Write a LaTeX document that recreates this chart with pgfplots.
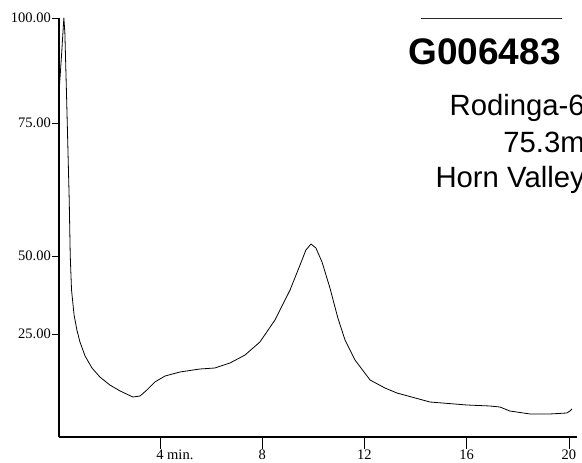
\documentclass[border=0pt]{standalone}
\usepackage{fontspec}
\setmainfont{Liberation Serif}
\newfontfamily\arial{Liberation Sans}
\usepackage{pgfplots}
\pgfplotsset{compat=1.18}
\begin{document}
\begin{tikzpicture}[x=1pt,y=1pt]
\begin{axis}[
  at={(59pt,26pt)}, anchor=south west,
  scale only axis,
  width=517.6pt, height=419pt,
  xmin=0.05, xmax=20.3, ymin=0, ymax=419,
  axis x line*=bottom, axis y line*=left,
  axis line style={-, line width=1.1pt},
  xtick=\empty,
  extra x ticks={4,8,12,16,20},
  extra x tick labels={{4\rlap{ min.}},8,12,16,20},
  extra x tick style={major tick length=12pt, tick style={line width=0.8pt, black},
     ticklabel style={font=\fontsize{14.5}{14.5}\selectfont, inner sep=1pt}},
  ytick={103,181,314,419},
  yticklabels={25.00,50.00,75.00,100.00},
  tick align=outside,
  major tick length=7pt,
  ytick style={line width=0.8pt, black},
  yticklabel style={font=\fontsize{14.5}{14.5}\selectfont, inner sep=1pt},
  clip=false,
]
\addplot[black, line width=0.8pt, line join=round] coordinates {
(0.06,348) (0.15,382) (0.24,419) (0.28,404) (0.35,337) (0.40,287) (0.45,237)
(0.49,181) (0.54,147) (0.64,122) (0.75,107) (0.87,95) (1.07,81) (1.34,69)
(1.65,60) (2.04,52) (2.44,46) (2.94,40) (3.22,41) (3.49,47) (3.80,55)
(4.20,61) (4.78,65) (5.56,68) (6.15,69) (6.74,74) (7.33,82) (7.91,95)
(8.50,117) (9.09,147) (9.48,172) (9.71,187) (9.91,193) (10.10,189)
(10.34,175) (10.65,149) (10.96,119) (11.24,97) (11.63,77) (12.22,57)
(12.80,49) (13.27,44) (14.56,35) (16.01,32) (16.91,31) (17.30,30)
(17.69,26) (18.48,23) (19.25,23) (19.92,24) (20.04,26) (20.12,28)
};
\end{axis}
\draw[line width=0.8pt, black!85] (421,445) -- (562,445);
\node[anchor=base, inner sep=0pt, font=\arial\bfseries\fontsize{37}{37}\selectfont] at (484.5,398) {G006483};
\node[anchor=base east, inner sep=0pt, font=\arial\fontsize{29.3}{29.3}\selectfont] at (585,347) {Rodinga-6};
\node[anchor=base east, inner sep=0pt, font=\arial\fontsize{29.3}{29.3}\selectfont] at (585,310) {75.3m};
\node[anchor=base east, inner sep=0pt, font=\arial\fontsize{29.3}{29.3}\selectfont] at (585,275) {Horn Valley};
\pgfresetboundingbox
\path[use as bounding box] (0,0) rectangle (582,463);
\end{tikzpicture}
\end{document}
